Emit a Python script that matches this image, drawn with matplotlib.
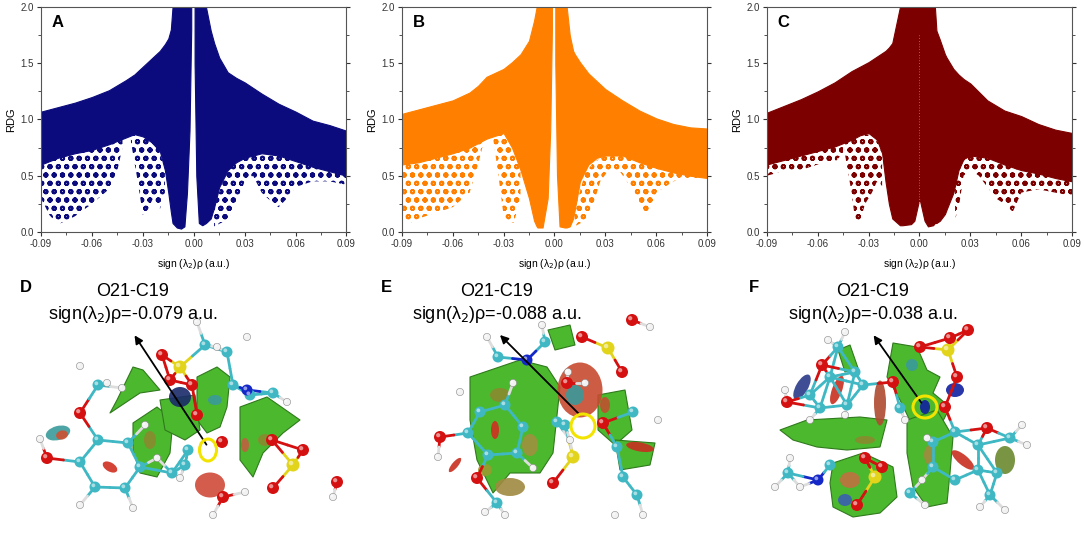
import numpy as np
import matplotlib
matplotlib.use('Agg')
import matplotlib.pyplot as plt
from matplotlib.patches import Circle, Ellipse, Polygon
from matplotlib.ticker import FormatStrFormatter, MultipleLocator

plt.rcParams['font.family'] = ['Liberation Sans', 'DejaVu Sans']
plt.rcParams['axes.unicode_minus'] = False
plt.rcParams['hatch.linewidth'] = 1.4

# ---------------- RDG scatter envelopes ----------------
# panel A
A_xl = [-0.09, -0.08, -0.07, -0.06, -0.05, -0.04, -0.035, -0.03, -0.025, -0.02, -0.017, -0.015,
        -0.0135, -0.0125, -0.01, -0.0075, -0.0055, -0.004, -0.0025, -0.0015]
A_upl = [1.07, 1.11, 1.15, 1.20, 1.26, 1.35, 1.40, 1.47, 1.54, 1.61, 1.67, 1.72,
         1.80, 2.0, 2.0, 2.0, 2.0, 2.0, 2.0, 2.0]
A_lol = [0.60, 0.66, 0.70, 0.73, 0.78, 0.84, 0.87, 0.85, 0.80, 0.72, 0.55, 0.35,
         0.18, 0.08, 0.04, 0.03, 0.05, 0.35, 0.90, 1.80]
A_xr = [0.0005, 0.0015, 0.003, 0.005, 0.0072, 0.01, 0.012, 0.015, 0.02, 0.025, 0.03, 0.04,
        0.05, 0.06, 0.07, 0.08, 0.09]
A_upr = [2.0, 2.0, 2.0, 2.0, 2.0, 1.79, 1.68, 1.55, 1.42, 1.37, 1.33, 1.23, 1.14, 1.07, 0.99, 0.95, 0.90]
A_lor = [1.5, 0.5, 0.08, 0.06, 0.08, 0.12, 0.22, 0.40, 0.55, 0.62, 0.66, 0.70, 0.68, 0.63, 0.58, 0.54, 0.50]
A_sparse = [
    ([-0.09, -0.085, -0.08, -0.075, -0.07, -0.06, -0.05, -0.045, -0.042],
     [0.30, 0.15, 0.07, 0.10, 0.14, 0.25, 0.38, 0.55, 0.75],
     [0.61, 0.63, 0.66, 0.68, 0.70, 0.73, 0.78, 0.81, 0.83]),
    ([-0.037, -0.033, -0.03, -0.027, -0.024, -0.02, -0.017],
     [0.80, 0.45, 0.15, 0.20, 0.30, 0.20, 0.35],
     [0.86, 0.87, 0.85, 0.83, 0.80, 0.72, 0.55]),
    ([0.012, 0.016, 0.02, 0.025, 0.03, 0.035, 0.04, 0.045, 0.05, 0.055, 0.06, 0.07, 0.08, 0.09],
     [0.05, 0.08, 0.10, 0.25, 0.45, 0.50, 0.35, 0.28, 0.22, 0.30, 0.40, 0.45, 0.45, 0.42],
     [0.22, 0.40, 0.55, 0.62, 0.66, 0.68, 0.70, 0.69, 0.68, 0.66, 0.63, 0.58, 0.54, 0.50]),
]

# panel B
B_xl = [-0.09, -0.08, -0.07, -0.06, -0.05, -0.045, -0.04, -0.03, -0.025, -0.02, -0.015, -0.012,
        -0.0105, -0.01, -0.007, -0.004, -0.0025, -0.0015]
B_upl = [1.05, 1.09, 1.13, 1.17, 1.24, 1.30, 1.38, 1.45, 1.51, 1.58, 1.70, 1.88,
         2.0, 2.0, 2.0, 2.0, 2.0, 2.0]
B_lol = [0.60, 0.62, 0.66, 0.70, 0.75, 0.79, 0.83, 0.88, 0.75, 0.55, 0.30, 0.10,
         0.05, 0.04, 0.04, 0.30, 0.90, 1.80]
B_xr = [0.0005, 0.0015, 0.003, 0.006, 0.0072, 0.009, 0.011, 0.012, 0.015, 0.02, 0.025, 0.03,
        0.04, 0.05, 0.06, 0.07, 0.08, 0.09]
B_upr = [2.0, 2.0, 2.0, 2.0, 2.0, 1.75, 1.61, 1.58, 1.51, 1.41, 1.34, 1.27,
         1.17, 1.08, 1.01, 0.96, 0.93, 0.92]
B_lor = [1.5, 0.5, 0.05, 0.04, 0.04, 0.05, 0.12, 0.20, 0.45, 0.60, 0.66, 0.68,
         0.68, 0.62, 0.57, 0.53, 0.50, 0.48]
B_sparse = [
    ([-0.09, -0.085, -0.08, -0.07, -0.06, -0.05, -0.045, -0.042],
     [0.12, 0.08, 0.12, 0.17, 0.22, 0.35, 0.60, 0.78],
     [0.60, 0.61, 0.62, 0.66, 0.70, 0.75, 0.79, 0.81]),
    ([-0.036, -0.033, -0.03, -0.027, -0.024, -0.02],
     [0.82, 0.50, 0.15, 0.10, 0.08, 0.30],
     [0.86, 0.87, 0.88, 0.82, 0.72, 0.55]),
    ([0.012, 0.018, 0.022, 0.027, 0.032, 0.038, 0.045, 0.05, 0.055, 0.06, 0.07, 0.08, 0.09],
     [0.05, 0.10, 0.20, 0.45, 0.55, 0.55, 0.40, 0.25, 0.15, 0.35, 0.45, 0.48, 0.46],
     [0.20, 0.52, 0.60, 0.66, 0.68, 0.68, 0.66, 0.62, 0.60, 0.57, 0.53, 0.50, 0.48]),
]

# panel C
C_x = [-0.09, -0.08, -0.07, -0.06, -0.05, -0.045, -0.04, -0.035, -0.03, -0.025, -0.022, -0.02,
       -0.018, -0.016, -0.0115, -0.01, -0.005, -0.003, 0.0, 0.003, 0.005, 0.008, 0.0091,
       0.01, 0.012, 0.015, 0.016, 0.02, 0.023, 0.026, 0.03, 0.04, 0.05, 0.06, 0.07, 0.08, 0.09]
C_up = [1.06, 1.12, 1.18, 1.25, 1.33, 1.38, 1.43, 1.47, 1.51, 1.56, 1.59, 1.61,
        1.64, 1.68, 2.0, 2.0, 2.0, 2.0, 2.0, 2.0, 2.0, 2.0, 2.0,
        1.79, 1.71, 1.58, 1.55, 1.45, 1.40, 1.36, 1.32, 1.17, 1.08, 1.03, 0.96, 0.91, 0.88]
C_lo = [0.60, 0.64, 0.68, 0.72, 0.76, 0.79, 0.82, 0.86, 0.88, 0.82, 0.70, 0.45,
        0.25, 0.12, 0.06, 0.06, 0.07, 0.10, 0.30, 0.10, 0.05, 0.06, 0.08,
        0.08, 0.10, 0.16, 0.20, 0.35, 0.55, 0.65, 0.68, 0.66, 0.60, 0.55, 0.52, 0.48, 0.45]
C_sparse = [
    ([-0.09, -0.085, -0.08, -0.07, -0.06, -0.05, -0.045],
     [0.50, 0.52, 0.55, 0.55, 0.60, 0.62, 0.70],
     [0.60, 0.62, 0.64, 0.68, 0.72, 0.76, 0.79]),
    ([-0.044, -0.04, -0.038, -0.035, -0.032, -0.028, -0.025, -0.022],
     [0.70, 0.35, 0.12, 0.10, 0.25, 0.35, 0.45, 0.40],
     [0.80, 0.82, 0.84, 0.86, 0.87, 0.86, 0.82, 0.70]),
    ([0.021, 0.023, 0.026, 0.03, 0.035, 0.04, 0.045, 0.05, 0.055, 0.06, 0.07, 0.08, 0.09],
     [0.12, 0.20, 0.50, 0.55, 0.50, 0.40, 0.30, 0.25, 0.18, 0.35, 0.38, 0.35, 0.32],
     [0.40, 0.55, 0.65, 0.68, 0.67, 0.66, 0.63, 0.60, 0.58, 0.55, 0.52, 0.48, 0.45]),
]

panel_letters = ['A', 'B', 'C']
panel_colors = ['#0b0b7d', '#ff8000', '#7d0000']
x_ticks = [-0.09, -0.06, -0.03, 0.00, 0.03, 0.06, 0.09]
y_ticks = [0.0, 0.5, 1.0, 1.5, 2.0]

# ---------------- molecule sketches (bottom row, image pixel coords) ----------------
atoms_D = [('C', 98, 440), ('C', 80, 462), ('C', 95, 487), ('C', 125, 488), ('C', 140, 467), ('C', 128, 443),
           ('O', 80, 413), ('C', 98, 385), ('H', 80, 366), ('H', 107, 383), ('H', 122, 388),
           ('O', 47, 458), ('H', 40, 439), ('H', 80, 505), ('H', 133, 508),
           ('C', 188, 450), ('C', 185, 465), ('C', 172, 473), ('H', 157, 458), ('H', 145, 425), ('H', 180, 478),
           ('S', 180, 367), ('O', 162, 355), ('O', 170, 380), ('O', 192, 385),
           ('C', 205, 345), ('C', 227, 352), ('H', 197, 322), ('H', 247, 337), ('H', 217, 347),
           ('S', 293, 465), ('O', 272, 440), ('O', 303, 450), ('O', 337, 482), ('O', 273, 488), ('H', 333, 497),
           ('O', 223, 497), ('H', 213, 515), ('H', 245, 492),
           ('C', 233, 385), ('C', 250, 395), ('C', 273, 393), ('N', 247, 390), ('H', 287, 402),
           ('O', 197, 415), ('O', 222, 442)]
blobs_D = [
    [(133, 423), (157, 407), (173, 420), (170, 453), (157, 477), (140, 473), (133, 450)],
    [(110, 413), (140, 393), (160, 390), (143, 370), (133, 367), (117, 400)],
    [(197, 377), (217, 367), (230, 377), (227, 407), (220, 427), (207, 433), (197, 420)],
    [(240, 407), (267, 397), (300, 420), (283, 433), (263, 453), (253, 477), (240, 460)],
    [(160, 400), (195, 395), (200, 430), (185, 440), (165, 430)],
]
spots_D = [(210, 485, 30, 25, 0, '#d04a3a'), (58, 433, 25, 14, -15, '#3a9a9a'), (62, 435, 12, 9, -15, '#d05030'),
           (110, 467, 16, 9, 30, '#d03020'), (180, 397, 22, 20, 0, '#1a2a6a'), (215, 400, 14, 10, 0, '#3a9a9a'),
           (150, 440, 12, 18, 0, '#8a8a30'), (265, 440, 14, 12, 0, '#8a8a30'), (245, 445, 8, 14, 0, '#c06040')]

atoms_E = [('C', 505, 405), ('C', 523, 427), ('C', 517, 453), ('C', 488, 455), ('C', 468, 433), ('C', 480, 412),
           ('O', 440, 437), ('H', 438, 457), ('O', 477, 478), ('C', 497, 503), ('H', 485, 512), ('H', 505, 515),
           ('C', 498, 357), ('C', 545, 342), ('N', 527, 360), ('H', 487, 337), ('H', 542, 325),
           ('H', 460, 392), ('H', 513, 383), ('H', 533, 468),
           ('S', 608, 348), ('O', 582, 337), ('O', 632, 320), ('O', 622, 372), ('H', 650, 327),
           ('O', 603, 423), ('C', 633, 412), ('H', 658, 420), ('C', 617, 447), ('C', 623, 477), ('C', 637, 495),
           ('H', 615, 515), ('H', 643, 515),
           ('C', 557, 422), ('C', 565, 425), ('O', 567, 383), ('H', 568, 372), ('H', 585, 383),
           ('S', 573, 457), ('O', 553, 483), ('H', 570, 440)]
blobs_E = [
    [(470, 377), (520, 360), (547, 367), (560, 387), (553, 453), (540, 473), (510, 473), (493, 493),
     (477, 460), (470, 420)],
    [(598, 395), (625, 390), (632, 430), (615, 445), (598, 430)],
    [(615, 440), (655, 443), (650, 465), (620, 470)],
    [(548, 330), (570, 325), (575, 345), (555, 350)],
]
spots_E = [(580, 390, 45, 55, 0, '#c84a30'), (575, 395, 18, 20, 0, '#3a9a9a'), (640, 447, 28, 9, 10, '#c83020'),
           (495, 430, 8, 18, 0, '#d03020'), (455, 465, 6, 18, 40, '#c83020'), (510, 487, 30, 18, 0, '#a08a40'),
           (500, 395, 20, 14, 0, '#8a8a30'), (530, 445, 16, 22, 0, '#a09040'), (485, 470, 14, 12, 0, '#9a9a30'),
           (605, 405, 10, 16, 0, '#c05030')]

atoms_F = [('C', 830, 377), ('C', 855, 372), ('C', 863, 385), ('C', 847, 405), ('C', 820, 408), ('C', 810, 395),
           ('O', 822, 365), ('C', 838, 347), ('H', 845, 332), ('H', 828, 340),
           ('O', 787, 402), ('H', 785, 390), ('H', 810, 420), ('H', 845, 415),
           ('O', 893, 382), ('C', 900, 408), ('H', 905, 420),
           ('S', 948, 350), ('O', 950, 338), ('O', 968, 330), ('O', 920, 347), ('O', 957, 377),
           ('N', 818, 480), ('C', 788, 473), ('C', 830, 465), ('H', 775, 487), ('H', 790, 458), ('H', 800, 487),
           ('S', 875, 477), ('O', 865, 458), ('O', 882, 467), ('O', 857, 505), ('C', 910, 493),
           ('H', 922, 480), ('H', 925, 505),
           ('C', 955, 432), ('C', 978, 445), ('C', 978, 470), ('C', 955, 480), ('C', 933, 467), ('C', 933, 442),
           ('O', 987, 428), ('C', 1010, 438), ('H', 1022, 425), ('H', 1027, 445),
           ('C', 997, 473), ('C', 990, 495), ('H', 1005, 510), ('H', 980, 507),
           ('H', 927, 438), ('O', 945, 407)]
blobs_F = [
    [(893, 343), (917, 347), (927, 370), (940, 377), (933, 393), (950, 407), (940, 427), (913, 427),
     (900, 400), (887, 377)],
    [(907, 420), (937, 410), (953, 437), (950, 473), (947, 503), (927, 507), (913, 487), (907, 453)],
    [(780, 430), (807, 420), (860, 417), (887, 420), (880, 447), (847, 450), (817, 447), (793, 440)],
    [(833, 463), (863, 453), (893, 467), (897, 497), (880, 513), (853, 517), (833, 507), (830, 483)],
    [(838, 350), (850, 345), (858, 368), (845, 372)],
]
spots_F = [(880, 403, 12, 45, 0, '#b04a30'), (837, 390, 10, 30, 20, '#c83020'), (802, 387, 12, 28, 30, '#2a3a8a'),
           (963, 460, 10, 28, -50, '#c83020'), (1005, 460, 20, 28, 0, '#6a8a30'), (955, 390, 18, 14, 0, '#1020a0'),
           (925, 407, 10, 14, 0, '#1020a0'), (850, 480, 20, 16, 0, '#c07040'), (845, 500, 14, 12, 0, '#3a60b0'),
           (930, 455, 12, 20, 0, '#a08a40'), (865, 440, 20, 8, 0, '#8a8a30'), (912, 365, 12, 12, 0, '#3a9a9a')]

mol_letters = ['D', 'E', 'F']
mol_letter_x = [20, 381, 749]
mol_text_x = [133, 497, 873]
mol_values = ['-0.079', '-0.088', '-0.038']
arrow_tail = [(208, 447), (582, 417), (923, 405)]
arrow_head = [(133, 333), (498, 333), (872, 333)]
ring_pos = [(208, 450, 17, 22), (583, 426, 24, 24), (925, 407, 24, 22)]

atom_color = {'C': '#3fb8c4', 'O': '#d41010', 'H': '#f2f2f2', 'S': '#e2d41a', 'N': '#1428c8'}
atom_size = {'C': 5.5, 'O': 6.0, 'H': 3.6, 'S': 6.5, 'N': 5.5}

fig = plt.figure(figsize=(10.84, 5.40), dpi=100)

lefts = [41 / 1084, 401.7 / 1084, 766.7 / 1084]
for i in range(3):
    ax = fig.add_axes([lefts[i], 308 / 540, 305.5 / 1084, 225 / 540])
    col = panel_colors[i]
    if i == 0:
        regions = [(A_xl, A_lol, A_upl), (A_xr, A_lor, A_upr)]
        sparse = A_sparse
    elif i == 1:
        regions = [(B_xl, B_lol, B_upl), (B_xr, B_lor, B_upr)]
        sparse = B_sparse
    else:
        regions = [(C_x, C_lo, C_up)]
        sparse = C_sparse
    for xs, lo, hi in sparse:
        ax.fill_between(xs, lo, hi, facecolor='none', edgecolor=col, hatch='oo', linewidth=0)
    for xs, lo, hi in regions:
        ax.fill_between(xs, lo, hi, color=col, linewidth=0.8, edgecolor=col)
    if i == 2:
        ax.plot([0, 0], [0.12, 1.75], color='white', lw=0.5, ls=(0, (1, 3)), alpha=0.7)
    ax.set_xlim(-0.09, 0.09)
    ax.set_ylim(0, 2.0)
    ax.set_xticks(x_ticks)
    ax.set_yticks(y_ticks)
    ax.xaxis.set_major_formatter(FormatStrFormatter('%.2f'))
    ax.yaxis.set_major_formatter(FormatStrFormatter('%.1f'))
    ax.xaxis.set_minor_locator(MultipleLocator(0.015))
    ax.yaxis.set_minor_locator(MultipleLocator(0.25))
    ax.tick_params(which='major', direction='out', length=3, width=0.8, labelsize=7, colors='#333333',
                   pad=2)
    ax.tick_params(which='minor', direction='out', length=2, width=0.6, colors='#333333')
    ax.tick_params(axis='y', which='both', right=True, labelright=False)
    for s in ax.spines.values():
        s.set_color('#555555')
        s.set_linewidth(0.8)
    ax.set_ylabel('RDG', fontsize=8, labelpad=3)
    ax.set_xlabel('sign (λ$_2$)ρ (a.u.)', fontsize=7.5, labelpad=6)
    ax.text(0.035, 0.93, panel_letters[i], transform=ax.transAxes, fontsize=12, fontweight='bold',
            ha='left', va='center')

# bottom row: molecule illustrations
axm = fig.add_axes([0, 0, 1, 290 / 540])
axm.set_xlim(0, 1084)
axm.set_ylim(540, 250)
axm.axis('off')

for atoms, blobs, spots in [(atoms_D, blobs_D, spots_D), (atoms_E, blobs_E, spots_E), (atoms_F, blobs_F, spots_F)]:
    for pts in blobs:
        axm.add_patch(Polygon(pts, closed=True, facecolor='#4cb82e', edgecolor='#2f7a1c', lw=0.8, zorder=1,
                              joinstyle='round'))
    for (cx, cy, w, h, ang, c) in spots:
        axm.add_patch(Ellipse((cx, cy), w, h, angle=ang, facecolor=c, edgecolor='none', alpha=0.9, zorder=1.5))
    # bonds between close atoms
    for a in range(len(atoms)):
        for b in range(a + 1, len(atoms)):
            ea, xa, ya = atoms[a]
            eb, xb, yb = atoms[b]
            if ea == 'H' and eb == 'H':
                continue
            d = np.hypot(xa - xb, ya - yb)
            lim = 25 if 'H' in (ea, eb) else 34
            if d < lim:
                xm, ym = (xa + xb) / 2, (ya + yb) / 2
                axm.plot([xa, xm], [ya, ym], color=atom_color[ea] if ea != 'H' else '#dddddd', lw=2, zorder=2,
                         solid_capstyle='round')
                axm.plot([xm, xb], [ym, yb], color=atom_color[eb] if eb != 'H' else '#dddddd', lw=2, zorder=2,
                         solid_capstyle='round')
    for e, x, y in atoms:
        r = atom_size[e]
        axm.add_patch(Circle((x, y), r, facecolor=atom_color[e], edgecolor='#888888' if e == 'H' else 'none',
                             lw=0.4, zorder=3))
        axm.add_patch(Circle((x - r * 0.3, y - r * 0.3), r * 0.35, facecolor='white', alpha=0.55,
                             edgecolor='none', zorder=3.1))

for i in range(3):
    axm.text(mol_letter_x[i], 288, mol_letters[i], fontsize=12, fontweight='bold', ha='left', va='center')
    axm.text(mol_text_x[i], 292, 'O21-C19', fontsize=13, ha='center', va='center')
    axm.text(mol_text_x[i], 315, 'sign(λ$_2$)ρ=' + mol_values[i] + ' a.u.', fontsize=13, ha='center',
             va='center')
    axm.annotate('', xy=arrow_head[i], xytext=arrow_tail[i],
                 arrowprops=dict(arrowstyle='-|>', color='black', lw=1.3, mutation_scale=12), zorder=5)
    cx, cy, w, h = ring_pos[i]
    axm.add_patch(Ellipse((cx, cy), w, h, facecolor='none', edgecolor='#f2e400', lw=2.2, zorder=6))

fig.savefig('out.png', dpi=100)
